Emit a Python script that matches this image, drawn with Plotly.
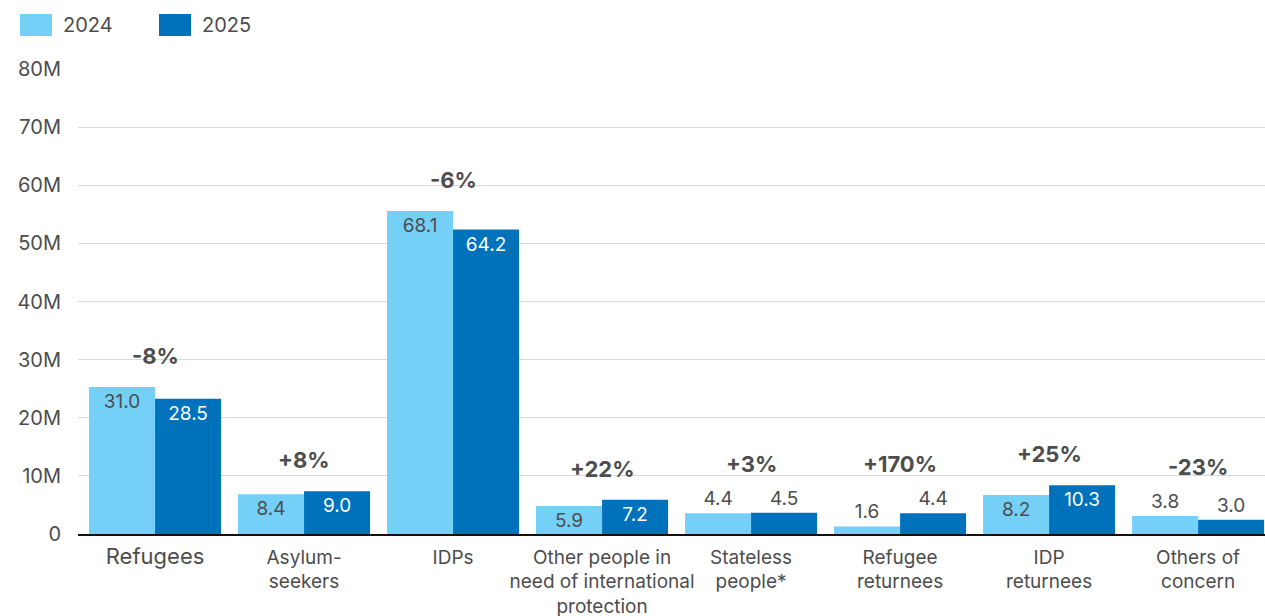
import plotly.graph_objects as go

# ---- data (values in millions, as printed on the bars) ----
categories = [
    "Refugees",
    "Asylum-<br>seekers",
    "IDPs",
    "Other people in<br>need of international<br>protection",
    "Stateless<br>people*",
    "Refugee<br>returnees",
    "IDP<br>returnees",
    "Others of<br>concern",
]
series_names = ["2024", "2025"]
values_2024 = [31.0, 8.4, 68.1, 5.9, 4.4, 1.6, 8.2, 3.8]
values_2025 = [28.5, 9.0, 64.2, 7.2, 4.5, 4.4, 10.3, 3.0]
change_labels = ["-8%", "+8%", "-6%", "+22%", "+3%", "+170%", "+25%", "-23%"]
y_tick_values = [0, 10, 20, 30, 40, 50, 60, 70, 80]
y_tick_labels = ["0", "10M", "20M", "30M", "40M", "50M", "60M", "70M", "80M"]

# In the reference the axis ticks are drawn on a compressed scale relative
# to the printed bar values; this factor reproduces that relationship.
AXIS_SCALE = 0.816

FONT = "Inter"
GRAY = "#4d4d4d"
LIGHT = "#74D0F6"
DARK = "#0072BC"
INSIDE_MIN = 5.0

# plot-area geometry (pixels) used to place the hand-drawn legend
W, H = 1265, 616
ML, MR, MT, MB = 78, 0, 69, 82
PW, PH = W - ML - MR, H - MT - MB

def px_x(x):
    return (x - ML) / PW

def px_y(y):
    return (H - MB - y) / PH

tick_text_x = [
    f'<span style="font-size:22px">{c}</span>' if c == "Refugees" else c
    for c in categories
]

def positions(vals):
    return ["inside" if v >= INSIDE_MIN else "outside" for v in vals]

def label_colors(vals, inside_col):
    return [inside_col if v >= INSIDE_MIN else GRAY for v in vals]

fig = go.Figure()
for name, vals, col, inside_col in [
    (series_names[0], values_2024, LIGHT, GRAY),
    (series_names[1], values_2025, DARK, "white"),
]:
    fig.add_trace(go.Bar(
        name=name, x=categories, y=vals,
        marker=dict(color=col, line=dict(width=0)),
        text=[f"{v:.1f}" for v in vals],
        textposition=positions(vals),
        insidetextanchor="end",
        constraintext="none",
        textfont=dict(family=FONT, size=19, color=label_colors(vals, inside_col)),
        cliponaxis=False,
        showlegend=False,
        hoverinfo="skip",
    ))

for cat, a, b, lab in zip(categories, values_2024, values_2025, change_labels):
    top = max(a, b)
    shift = 31 if top >= INSIDE_MIN else 49
    fig.add_annotation(
        x=cat, y=top, text=f"<b>{lab}</b>", showarrow=False,
        yshift=shift, yanchor="middle",
        font=dict(family=FONT, size=22, color=GRAY),
    )

# legend (swatches + labels) drawn at the top-left
for i, (name, col) in enumerate(zip(series_names, [LIGHT, DARK])):
    x0 = 20 + i * 139
    fig.add_shape(
        type="rect", xref="paper", yref="paper",
        x0=px_x(x0), x1=px_x(x0 + 32), y0=px_y(36), y1=px_y(14),
        fillcolor=col, line=dict(width=0),
    )
    fig.add_annotation(
        xref="paper", yref="paper", x=px_x(x0 + 41), y=px_y(25),
        xanchor="left", yanchor="middle", text=name, showarrow=False,
        font=dict(family=FONT, size=20, color=GRAY),
    )

fig.update_layout(
    width=W, height=H,
    margin=dict(l=ML, r=MR, t=MT, b=MB),
    paper_bgcolor="white", plot_bgcolor="white",
    barmode="group", bargap=0.114, bargroupgap=0,
    font=dict(family=FONT, size=19, color=GRAY),
    showlegend=False,
    xaxis=dict(
        type="category", tickmode="array", tickvals=categories, ticktext=tick_text_x,
        showline=True, linecolor="#111111", linewidth=1.5,
        showgrid=False, ticks="", ticklabelstandoff=5,
        tickfont=dict(family=FONT, size=19, color=GRAY),
        range=[-0.517, 7.449], automargin=False,
    ),
    yaxis=dict(
        range=[0, 80 / AXIS_SCALE],
        tickmode="array",
        tickvals=[t / AXIS_SCALE for t in y_tick_values],
        ticktext=y_tick_labels,
        showgrid=True, gridcolor="#d9d9d9", gridwidth=1,
        zeroline=False, showline=False, ticks="",
        ticklabelstandoff=16, automargin=False,
        tickfont=dict(family=FONT, size=20, color=GRAY),
    ),
)

fig.write_html(
    "out.html",
    config={"displayModeBar": False},
    post_script="document.body.style.margin='0';",
)
